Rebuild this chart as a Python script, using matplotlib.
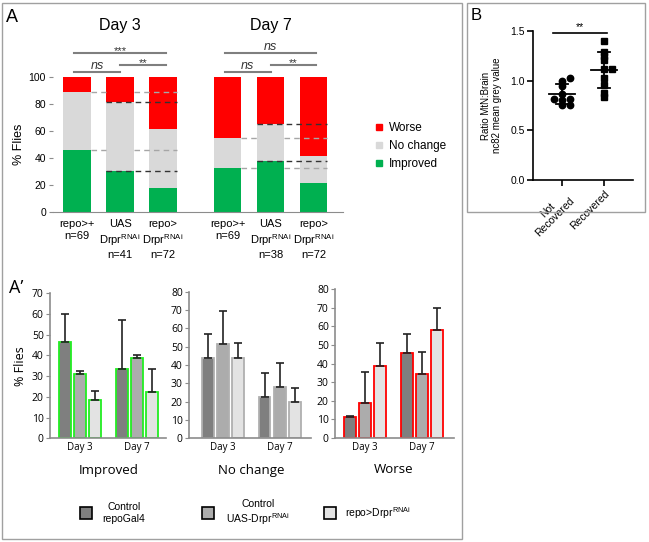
import numpy as np
import matplotlib.pyplot as plt
from matplotlib.patches import Rectangle
from matplotlib.lines import Line2D

plt.rcParams['font.family'] = 'Liberation Sans'
plt.rcParams['mathtext.default'] = 'regular'

W, H = 649, 542

# ---- Panel A: stacked percentages per genotype (Day 3 then Day 7)
days = ['Day 3', 'Day 7']
genotype_ticks = ['repo>+\nn=69', 'UAS\nDrpr$^{RNAi}$\nn=41', 'repo>\nDrpr$^{RNAi}$\nn=72',
                  'repo>+\nn=69', 'UAS\nDrpr$^{RNAi}$\nn=38', 'repo>\nDrpr$^{RNAi}$\nn=72']
improved_pct = [45.9, 30.1, 18.0, 32.6, 38.0, 21.7]
nochange_pct = [42.7, 51.6, 43.5, 22.2, 27.4, 19.8]
worse_pct = [11.4, 18.3, 38.5, 45.2, 34.6, 58.5]
sig_pairs = [(0, 2), (0, 1), (1, 2)]
sig_labels = [['***', 'ns', '**'], ['ns', 'ns', '**']]

# ---- Panel A': mean +/- error per outcome
genotype_names = ['Control\nrepoGal4', 'Control\nUAS-Drpr$^{RNAi}$', 'repo>Drpr$^{RNAi}$']
outcomes = ['Improved', 'No change', 'Worse']
improved_mean = [46.5, 31.2, 18.5, 33.3, 38.9, 22.5]
improved_err = [13.4, 1.5, 4.4, 24.0, 1.3, 11.0]
nochange_mean = [43.6, 51.5, 44.0, 22.4, 28.2, 19.8]
nochange_err = [13.3, 18.0, 7.8, 13.4, 13.1, 7.5]
worse_mean = [11.3, 18.9, 38.7, 45.5, 34.3, 58.1]
worse_err = [0.4, 16.7, 12.2, 10.4, 12.1, 12.0]

# ---- Panel B: individual values
b_groups = ['Not\nRecovered', 'Recovered']
not_recovered = [1.00, 1.03, 0.95, 0.87, 0.81, 0.82, 0.82, 0.75, 0.76]
recovered = [1.40, 1.29, 1.25, 1.21, 1.12, 1.12, 1.03, 0.96, 0.88, 0.84]

green, lgray, red = '#00b050', '#d9d9d9', '#ff0000'
fills = ['#7f7f7f', '#acacac', '#e3e3e3']
axgray = '#8c8c8c'

fig = plt.figure(figsize=(W / 100, H / 100), dpi=100)


def px_ax(l, t, r, b):
    return fig.add_axes([l / W, 1 - b / H, (r - l) / W, (b - t) / H])


# frames
fig.add_artist(Rectangle((2 / W, 1 - 539 / H), 460 / W, 536 / H, transform=fig.transFigure,
                         fill=False, edgecolor='#a0a0a0', lw=1))
fig.add_artist(Rectangle((467 / W, 1 - 212 / H), 178 / W, 209 / H, transform=fig.transFigure,
                         fill=False, edgecolor='#a0a0a0', lw=1))

############## Panel A
ax = px_ax(53, 212 - 125 * 1.35, 343, 212)
x = np.array([g * 3.5 + i for g in range(2) for i in range(3)])
w = 0.65
imp = np.array(improved_pct)
nch = np.array(nochange_pct)
wor = np.array(worse_pct)
ax.bar(x, imp, w, color=green, zorder=2)
ax.bar(x, nch, w, bottom=imp, color=lgray, zorder=2)
ax.bar(x, wor, w, bottom=imp + nch, color=red, zorder=2)

for g in range(2):
    p = x[g * 3:g * 3 + 3]
    i0 = g * 3
    for lev in [imp[i0], imp[i0] + nch[i0]]:
        ax.plot([p[0] + w / 2, p[1] - w / 2], [lev, lev], ls=(0, (4, 3)), color='#a6a6a6', lw=1, zorder=3)
        ax.plot([p[1] + w / 2, p[2] + w / 2], [lev, lev], ls=(0, (4, 3)), color='#a6a6a6', lw=1, zorder=3)
    for lev in [imp[i0 + 1], imp[i0 + 1] + nch[i0 + 1]]:
        ax.plot([p[1] - w / 2, p[2] + w / 2], [lev, lev], ls=(0, (4, 3)), color='#333333', lw=1, zorder=3)
    # significance lines
    levels = [118, 104, 109]
    for (a, b), lab, lev in zip(sig_pairs, sig_labels[g], levels):
        x0 = p[a] - (0.06 if a == 0 else 0)
        x1 = p[b] + (0.06 if b == 2 else 0)
        ax.plot([x0, x1], [lev, lev], color='#7f7f7f', lw=1.5, clip_on=False)
        if lab == 'ns':
            ax.text((x0 + x1) / 2, lev + 4.5, lab, ha='center', va='center', fontsize=9,
                    style='italic', color='#333333')
        else:
            ax.text((x0 + x1) / 2, lev + 1.5, lab, ha='center', va='center', fontsize=8, color='#333333')
    ax.text(p[1], 138.5, days[g], ha='center', va='center', fontsize=11.5, clip_on=False)

ax.set_xlim((53 - 77) / 43, (343 - 77) / 43)
ax.set_ylim(0, 125)
ax.set_yticks(range(0, 101, 20))
ax.set_xticks(x)
ax.set_xticklabels(genotype_ticks, fontsize=8, linespacing=1.25)
ax.tick_params(axis='x', length=0, pad=5)
ax.tick_params(axis='y', length=3, color=axgray, labelsize=7.5, pad=2)
for s in ['top', 'right', 'left']:
    ax.spines[s].set_visible(False)
ax.spines['bottom'].set_color(axgray)
ax.set_ylabel('% Flies', fontsize=9)
ax.yaxis.set_label_coords(-0.095, 0.4)

handles = [Line2D([], [], ls='none', marker='s', ms=5, color=c, label=l)
           for c, l in zip([red, lgray, green], ['Worse', 'No change', 'Improved'])]
fig.legend(handles=handles, loc='center left', bbox_to_anchor=(364 / W, 1 - 146 / H), frameon=False,
           fontsize=8.5, handlelength=0.8, handletextpad=0.4, labelspacing=0.5)
fig.text(12 / W, 1 - 17 / H, 'A', fontsize=13, ha='center', va='center')

############## Panel A'
ap_layout = [(50, 293.3, 166, 438.3, 80.0, 70),
             (189, 291.7, 311, 438.3, 222.9, 80),
             (335, 289.3, 454, 437.7, 365.0, 80)]
ap_means = [improved_mean, nochange_mean, worse_mean]
ap_errs = [improved_err, nochange_err, worse_err]
ap_edges = ['#22ee22', '#b0b0b0', '#ff0000']
unit = 15.3
gstep = 3.72
xs = np.array([g * gstep + (i - 1) for g in range(2) for i in range(3)])
for k, (l, t, r, b, c, ymax) in enumerate(ap_layout):
    a2 = px_ax(l, t, r, b)
    a2.bar(xs, ap_means[k], 0.78, color=fills * 2, edgecolor=ap_edges[k], lw=1.3, zorder=2)
    a2.errorbar(xs, ap_means[k], yerr=[np.zeros(6), ap_errs[k]], fmt='none', ecolor='#222222',
                elinewidth=1.2, capsize=3, capthick=1.2, zorder=3)
    a2.set_xlim((l - c) / unit, (r - c) / unit)
    a2.set_ylim(0, ymax)
    a2.set_yticks(range(0, ymax + 1, 10))
    a2.set_xticks([0, gstep])
    a2.set_xticklabels(days, fontsize=7, family='Open Sans')
    for lab in a2.get_yticklabels():
        lab.set_family('Open Sans')
    a2.tick_params(axis='x', length=0, pad=3)
    a2.tick_params(axis='y', length=3, color=axgray, labelsize=7.5, pad=1.5)
    for s in ['top', 'right']:
        a2.spines[s].set_visible(False)
    for s in ['left', 'bottom']:
        a2.spines[s].set_color(axgray)
        a2.spines[s].set_linewidth(1.2)
    a2.annotate(outcomes[k], xy=(gstep / 2, 0), xycoords=('data', 'axes fraction'),
                xytext=(0, -23), textcoords='offset points', ha='center', va='center',
                fontsize=9.5, family='Open Sans')
    if k == 0:
        a2.set_ylabel('% Flies', fontsize=9, family='Open Sans')
        a2.yaxis.set_label_coords(-0.2, 0.5)

fig.text(16 / W, 1 - 288 / H, 'A’', fontsize=13, ha='center', va='center', family='Open Sans')

# bottom legend
sq_x = [86, 208, 330]
tx_x = [124, 258, 378]
for f, sx, tx, name in zip(fills, sq_x, tx_x, genotype_names):
    fig.add_artist(Rectangle(((sx - 6) / W, 1 - 519 / H), 12 / W, 12 / H, transform=fig.transFigure,
                             facecolor=f, edgecolor='black', lw=1.2))
    fig.text(tx / W, 1 - 513 / H, name, ha='center', va='center', fontsize=7.5, linespacing=1.15)

############## Panel B
axb = px_ax(533, 31, 633, 180)


def swarm(vals, step, gap):
    placed, offs = [], []
    for v in vals:
        for cand in [0, step, -step, 2 * step, -2 * step]:
            if all(abs(v - pv) >= gap or abs(cand - po) > step * 0.5 for pv, po in placed):
                break
        placed.append((v, cand))
        offs.append(cand)
    return np.array(offs)


for gi, (vals, mk, ms) in enumerate([(not_recovered, 'o', 4.6), (recovered, 's', 4.8)]):
    vals = np.array(vals)
    offs = swarm(vals, 0.2, 0.039)
    axb.plot(gi + offs, vals, ls='none', marker=mk, ms=ms, color='black', zorder=3)
    m, sd = vals.mean(), vals.std(ddof=1)
    axb.plot([gi - 0.3, gi + 0.3], [m, m], color='black', lw=1.3)
    axb.plot([gi, gi], [m - sd, m + sd], color='black', lw=1.3)
    for e in [m - sd, m + sd]:
        axb.plot([gi - 0.15, gi + 0.15], [e, e], color='black', lw=1.3)

axb.plot([-0.21, 1.07], [1.48, 1.48], color='black', lw=1.2, clip_on=False)
axb.text(0.43, 1.535, '**', ha='center', va='center', fontsize=7.5, clip_on=False)
axb.set_xlim((533 - 562) / 42, (633 - 562) / 42)
axb.set_ylim(0, 1.5)
axb.set_yticks([0, 0.5, 1.0, 1.5])
axb.set_yticklabels(['0.0', '0.5', '1.0', '1.5'])
axb.set_xticks([0, 1])
axb.set_xticklabels(b_groups, rotation=45, ha='right', rotation_mode='anchor',
                    multialignment='center', fontsize=7.5, linespacing=1.0)
axb.tick_params(axis='both', length=4, width=1.2, labelsize=7.5, pad=2)
for s in ['top', 'right']:
    axb.spines[s].set_visible(False)
for s in ['left', 'bottom']:
    axb.spines[s].set_linewidth(1.2)
axb.set_ylabel('Ratio MtN:Brain\nnc82 mean grey value', fontsize=7, linespacing=1.1)
axb.yaxis.set_label_coords(-0.31, 0.5)
fig.text(476 / W, 1 - 16 / H, 'B', fontsize=12, ha='center', va='center')

fig.savefig('out.png', dpi=100)
